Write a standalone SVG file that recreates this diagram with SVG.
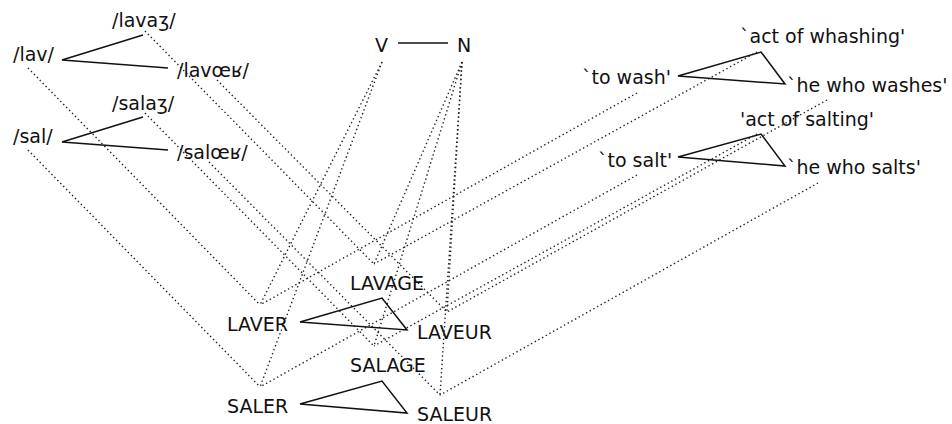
<svg xmlns="http://www.w3.org/2000/svg" width="952" height="424" viewBox="0 0 952 424">
<style>
text{font-family:"DejaVu Sans","Liberation Sans",sans-serif;font-size:19px;fill:#111}
.s{fill:none;stroke:#111;stroke-width:1.5}
.d{fill:none;stroke:#222;stroke-width:1.4;stroke-dasharray:1.4 2.8}
</style>
<rect width="952" height="424" fill="#fff"/>
<g id="connectors">
<line class="d" x1="28" y1="68" x2="260" y2="305"/>
<line class="d" x1="145" y1="31" x2="374" y2="264"/>
<line class="d" x1="217" y1="80" x2="447" y2="312"/>
<line class="d" x1="28" y1="150" x2="260" y2="387"/>
<line class="d" x1="145" y1="113" x2="374" y2="346"/>
<line class="d" x1="209" y1="162" x2="440" y2="395"/>
<line class="d" x1="382" y1="62" x2="260" y2="305"/>
<line class="d" x1="382" y1="62" x2="260" y2="387"/>
<line class="d" x1="462" y1="62" x2="374" y2="264"/>
<line class="d" x1="462" y1="62" x2="447" y2="312"/>
<line class="d" x1="462" y1="62" x2="374" y2="346"/>
<line class="d" x1="462" y1="62" x2="440" y2="395"/>
<line class="d" x1="637" y1="93" x2="260" y2="305"/>
<line class="d" x1="757" y1="52" x2="374" y2="264"/>
<line class="d" x1="827" y1="100" x2="447" y2="312"/>
<line class="d" x1="637" y1="175" x2="260" y2="387"/>
<line class="d" x1="757" y1="134" x2="374" y2="346"/>
<line class="d" x1="818" y1="183" x2="440" y2="395"/>
</g>
<g id="phon-lav">
<text x="13" y="61">/lav/</text>
<text x="112" y="27">/lavaʒ/</text>
<text x="177" y="77">/lavœʁ/</text>
<polyline class="s" points="143,35 62,60 168,68"/>
</g>
<g id="phon-sal">
<text x="13" y="143">/sal/</text>
<text x="112" y="110">/salaʒ/</text>
<text x="177" y="159">/salœʁ/</text>
<polyline class="s" points="143,117 62,142 168,150"/>
</g>
<g id="cat">
<text x="375" y="52">V</text>
<text x="457" y="52">N</text>
<line class="s" x1="398" y1="43" x2="448" y2="43"/>
</g>
<g id="sem-wash">
<text x="740" y="43">`act of whashing'</text>
<text x="582" y="84">`to wash'</text>
<text x="787" y="92">`he who washes'</text>
<polygon class="s" points="678,76 761,52 785,84"/>
</g>
<g id="sem-salt">
<text x="740" y="126">'act of salting'</text>
<text x="598" y="167">`to salt'</text>
<text x="787" y="174">`he who salts'</text>
<polygon class="s" points="678,157 761,134 785,166"/>
</g>
<g id="lex-lav">
<text x="350" y="290">LAVAGE</text>
<text x="227" y="331">LAVER</text>
<text x="417" y="339">LAVEUR</text>
<polygon class="s" points="300,322 382,298 407,330"/>
</g>
<g id="lex-sal">
<text x="350" y="372">SALAGE</text>
<text x="227" y="413">SALER</text>
<text x="417" y="421">SALEUR</text>
<polygon class="s" points="300,404 382,381 407,413"/>
</g>
</svg>
